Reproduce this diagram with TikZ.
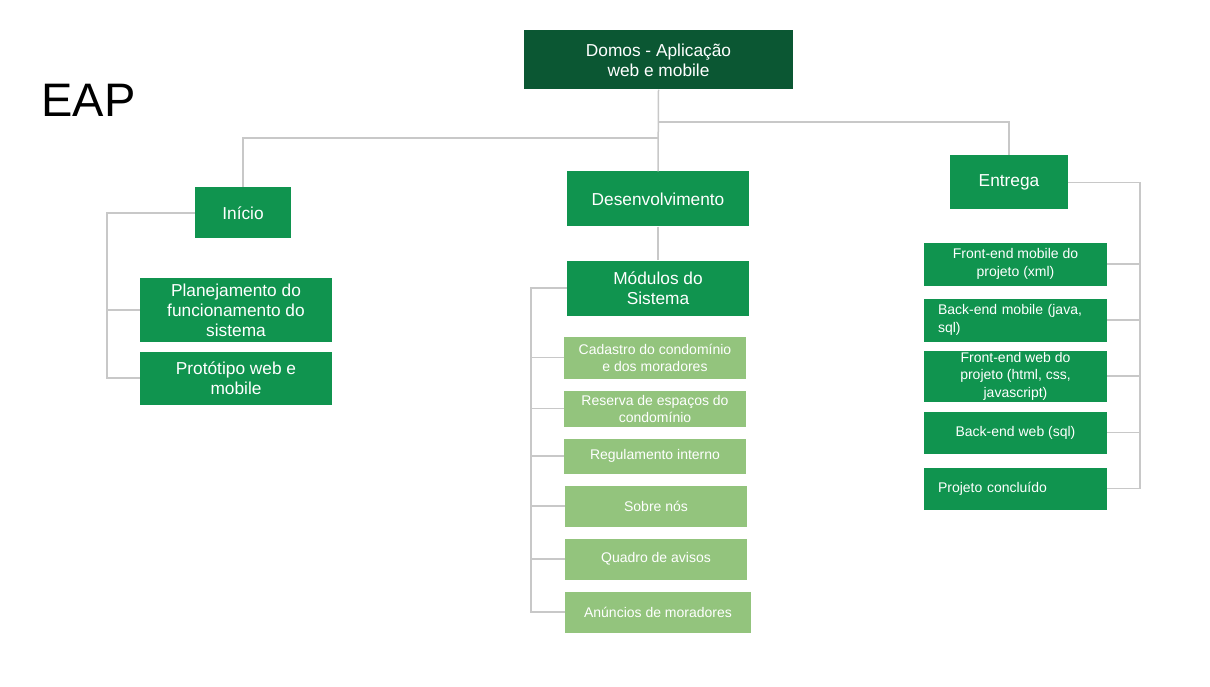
\documentclass[tikz,border=0pt]{standalone}
\usepackage{fontspec}
\setmainfont{Liberation Sans}
\definecolor{dkgreen}{HTML}{0B5733}
\definecolor{mdgreen}{HTML}{10944F}
\definecolor{ltgreen}{HTML}{93C47D}
\definecolor{conncol}{HTML}{C8C8C8}
\tikzset{
  box/.style={fill=mdgreen, text=white, align=center, inner sep=0pt, font=\fontsize{17.3}{20}\selectfont},
  rootbox/.style={box, fill=dkgreen},
  subbox/.style={box, font=\fontsize{14}{17.5}\selectfont},
  modbox/.style={box, fill=ltgreen, font=\fontsize{14}{17}\selectfont},
  conn/.style={draw=conncol, line width=1.5pt},
}
\begin{document}
\begin{tikzpicture}[x=1pt,y=-1pt]
\useasboundingbox (0,0) rectangle (1210,687);
\fill[white] (0,0) rectangle (1210,687);

\node[anchor=west, font=\fontsize{47}{50}\selectfont] (eap) at (38,100) {EAP};

\node[rootbox, minimum width=269pt, minimum height=59pt] (root) at (658.5,60) {Domos - Aplicação\\web e mobile};

\node[box, minimum width=96pt, minimum height=51pt] (ini) at (243,213) {Início};
\node[box, minimum width=192pt, minimum height=64pt] (plan) at (236,310) {Planejamento do\\funcionamento do\\sistema};
\node[box, minimum width=192pt, minimum height=53pt] (prot) at (236,378) {Protótipo web e\\mobile};

\node[box, minimum width=182pt, minimum height=55pt] (dev) at (658,199) {Desenvolvimento};
\node[box, minimum width=182pt, minimum height=55pt] (mod) at (658,288) {Módulos do\\Sistema};
\node[modbox, minimum width=182pt, minimum height=42pt] (cad) at (655,357.5) {Cadastro do condomínio\\e dos moradores};
\node[modbox, minimum width=182pt, minimum height=36pt] (res) at (655,408.5) {Reserva de espaços do\\condomínio};
\node[modbox, minimum width=182pt, minimum height=35pt] (reg) at (655,456) {Regulamento interno};
\node[modbox, minimum width=182pt, minimum height=41pt] (sob) at (656,506) {Sobre nós};
\node[modbox, minimum width=182pt, minimum height=41pt] (qua) at (656,559) {Quadro de avisos};
\node[modbox, minimum width=186pt, minimum height=41pt] (anu) at (658,612) {Anúncios de moradores};

\node[box, minimum width=118pt, minimum height=54pt] (ent) at (1009,182.5) {Entrega};
\node[subbox, minimum width=183pt, minimum height=43pt] (fem) at (1015.5,264) {Front-end mobile do\\projeto (xml)};
\node[subbox, minimum width=183pt, minimum height=43pt, text width=155pt, align=left] (bem) at (1015.5,320) {Back-end mobile (java,\\sql)};
\node[subbox, minimum width=183pt, minimum height=51pt] (few) at (1015.5,376) {Front-end web do\\projeto (html, css,\\javascript)};
\node[subbox, minimum width=183pt, minimum height=42pt] (bew) at (1015.5,432.5) {Back-end web (sql)};
\node[subbox, minimum width=183pt, minimum height=42pt, text width=155pt, align=left] (pro) at (1015.5,488.5) {Projeto concluído};

\coordinate (jr) at (658,122);
\coordinate (jl) at (658,138);
\coordinate (lx) at (107,378);
\coordinate (mx) at (531,612);
\coordinate (rx) at (1140,488.5);

\draw[conn] (root.south) -- (dev.north);
\draw[conn] (jr) -| (ent.north);
\draw[conn] (jl) -| (ini.north);

\draw[conn] (ini.west) -| (lx) -- (prot.west);
\draw[conn] (plan.west) -- (plan.west -| lx);

\draw[conn] (dev.south) -- (mod.north);
\draw[conn] (mod.west) -| (mx) -- (anu.west);
\foreach \n in {cad,res,reg,sob,qua}{
  \draw[conn] (\n.west) -- (\n.west -| mx);
}

\draw[conn] (ent.east) -| (rx) -- (pro.east);
\foreach \n in {fem,bem,few,bew}{
  \draw[conn] (\n.east) -- (\n.east -| rx);
}
\end{tikzpicture}
\end{document}
